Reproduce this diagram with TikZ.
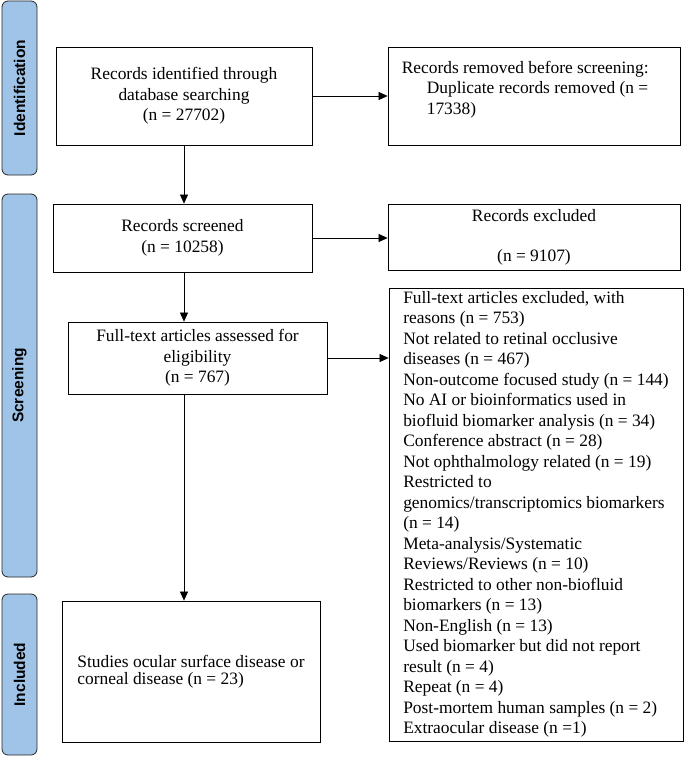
\documentclass[tikz,border=0pt]{standalone}
\usepackage{fontspec}
\setmainfont{Liberation Serif}
\setsansfont{Liberation Sans}
\usetikzlibrary{arrows.meta,positioning}
\definecolor{phaseblue}{RGB}{160,196,232}

\begin{document}
\begin{tikzpicture}[
			x=1pt, y=-1pt,
			>={Triangle[length=9pt,width=8pt]},
			post/.style={->,semithick},
			box/.style={draw,thick,align=center,inner sep=0pt,font=\fontsize{17.4}{20.5}\selectfont},
			boxtext/.style={align=left,inner sep=0pt,font=\fontsize{17.4}{20.5}\selectfont},
		phase/.style={draw=black!85,thick,fill=phaseblue,rounded corners=6pt,rotate=90,inner sep=0pt,
			minimum height=35pt,font=\fontsize{15.5}{18}\sffamily\bfseries\selectfont}]

		\useasboundingbox (0,0) rectangle (685,757);

		% phases
		\node[phase, minimum width=174pt] (pid) at (19.5,88) {Identification};
		\node[phase, minimum width=383pt] (pscr) at (19.5,385.5) {Screening};
		\node[phase, minimum width=161pt] (pinc) at (19.5,674.5) {Included};

		% boxes
		\node[box, minimum width=256pt, minimum height=98pt] (ident) at (184,96)
			{Records identified through\\database searching\\(n = 27702)};
		\node[box, minimum width=292pt, minimum height=98pt] (removed) at (534,96) {};
		\node[boxtext, anchor=north west, xshift=14pt, yshift=-14pt] (removedtxt) at (removed.north west)
			{Records removed before screening:\\\hspace*{25pt}Duplicate records removed (n =\\\hspace*{25pt}17338)};
		\node[box, minimum width=259pt, minimum height=68pt] (screened) at (182.5,238)
			{Records screened\\(n = 10258)};
		\node[box, minimum width=292pt, minimum height=66pt] (excl) at (534,237)
			{Records excluded\\[19.5pt](n = 9107)};
		\node[box, minimum width=259pt, minimum height=72pt] (fulltext) at (197.5,358)
			{Full-text articles assessed for\\eligibility\\(n = 767)};
		\node[box, align=left, minimum width=294pt, minimum height=453pt] (ftexcl) at (536,514.5)
			{Full-text articles excluded, with\\
			reasons (n = 753)\\
			Not related to retinal occlusive\\
			diseases (n = 467)\\
			Non-outcome focused study (n = 144)\\
			No AI or bioinformatics used in\\
			biofluid biomarker analysis (n = 34)\\
			Conference abstract (n = 28)\\
			Not ophthalmology related (n = 19)\\
			Restricted to\\
			genomics/transcriptomics biomarkers\\
			(n = 14)\\
			Meta-analysis/Systematic\\
			Reviews/Reviews (n = 10)\\
			Restricted to other non-biofluid\\
			biomarkers (n = 13)\\
			Non-English (n = 13)\\
			Used biomarker but did not report\\
			result (n = 4)\\
			Repeat (n = 4)\\
			Post-mortem human samples (n = 2)\\
			Extraocular disease (n =1)};
		\node[box, align=left, minimum width=258pt, minimum height=141pt,
			font=\fontsize{17.4}{17.5}\selectfont] (incl) at (191,671.5)
			{Studies ocular surface disease or\\corneal disease (n = 23)};

		% connectors
		\draw[post] (ident.south) -- (ident.south |- screened.north);
		\draw[post] (ident.east) -- (ident.east -| removed.west);
		\draw[post] (screened.south -| ident.south) -- (fulltext.north -| ident.south);
		\draw[post] (screened.east) -- (screened.east -| excl.west);
		\draw[post] (fulltext.east) -- (fulltext.east -| ftexcl.west);
		\draw[post] (fulltext.south -| ident.south) -- (incl.north -| ident.south);
	\end{tikzpicture}
\end{document}
